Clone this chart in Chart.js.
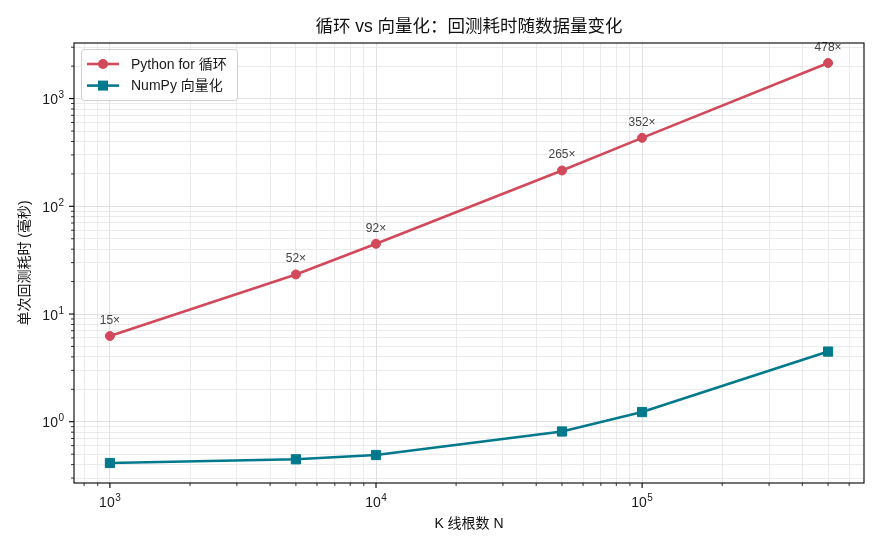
<!DOCTYPE html>
<html lang="zh">
<head>
<meta charset="UTF-8">
<title>循环 vs 向量化</title>
<script src="https://cdn.jsdelivr.net/npm/chart.js@4/dist/chart.umd.min.js"></script>
<style>
  body { margin: 0; background: #fff; }
  canvas { display: block; }
</style>
</head>
<body>
<canvas id="chart" width="880" height="550"></canvas>
<script>
// data
var barCounts = [1000, 5000, 10000, 50000, 100000, 500000];
var loopMs = [6.25, 23.3, 44.9, 215, 432, 2140];
var numpyMs = [0.414, 0.448, 0.491, 0.812, 1.23, 4.48];
var speedups = ['15×', '52×', '92×', '265×', '352×', '478×'];
var seriesNames = ['Python for 循环', 'NumPy 向量化'];
var seriesColors = ['#d1495b', '#00798c'];

var FONT = '"Liberation Sans", "Noto Sans CJK SC", sans-serif';
var TITLE_FONT = '"Liberation Sans", "Noto Sans CJK JP", sans-serif';

// matplotlib-like 5% margins in log space
function logLimits(values) {
    var lo = Math.log10(Math.min.apply(null, values));
    var hi = Math.log10(Math.max.apply(null, values));
    var pad = (hi - lo) * 0.05;
    return { min: Math.pow(10, lo - pad), max: Math.pow(10, hi + pad) };
}
var xLim = logLimits(barCounts);
var yLim = logLimits(loopMs.concat(numpyMs));

function logTicks(lim) {
    var ticks = [];
    var e0 = Math.floor(Math.log10(lim.min)), e1 = Math.ceil(Math.log10(lim.max));
    for (var e = e0; e <= e1; e++) {
        for (var m = 1; m < 10; m++) {
            var v = m * Math.pow(10, e);
            if (v >= lim.min && v <= lim.max) ticks.push({ value: v, major: m === 1, exp: e });
        }
    }
    return ticks;
}

function gridColor(ctx) {
    return ctx.tick && ctx.tick.major ? '#d9d9d9' : '#e6e6e6';
}

function drawPow(ctx, exp, x, y, align) {
    // "10" plus a raised smaller exponent
    ctx.font = '14px ' + FONT;
    var base = ctx.measureText('10').width;
    ctx.font = '10px ' + FONT;
    var sup = String(exp);
    var supW = ctx.measureText(sup).width;
    var total = base + supW + 0.5;
    var x0 = align === 'right' ? x - total : x - total / 2;
    ctx.textAlign = 'left';
    ctx.textBaseline = 'alphabetic';
    ctx.font = '14px ' + FONT;
    ctx.fillText('10', x0, y);
    ctx.font = '10px ' + FONT;
    ctx.fillText(sup, x0 + base + 0.5, y - 6);
}

var decorations = {
    id: 'decorations',
    afterDraw: function (chart) {
        var ctx = chart.ctx;
        var a = chart.chartArea;
        var xs = chart.scales.x, ys = chart.scales.y;
        ctx.save();

        // speed-up labels above the loop points
        var meta = chart.getDatasetMeta(0);
        ctx.fillStyle = '#444';
        ctx.font = '12px ' + FONT;
        ctx.textAlign = 'center';
        ctx.textBaseline = 'alphabetic';
        meta.data.forEach(function (pt, i) {
            ctx.fillText(speedups[i], pt.x, pt.y - 12);
        });

        // frame
        ctx.strokeStyle = '#000';
        ctx.lineWidth = 1.1;
        ctx.strokeRect(a.left, a.top, a.right - a.left, a.bottom - a.top);

        // tick marks and labels
        ctx.fillStyle = '#1a1a1a';
        xs.ticks.forEach(function (t) {
            var px = xs.getPixelForValue(t.value);
            ctx.lineWidth = t.major ? 1.1 : 0.8;
            ctx.beginPath();
            ctx.moveTo(px, a.bottom);
            ctx.lineTo(px, a.bottom + (t.major ? 5 : 3));
            ctx.stroke();
            if (t.major) drawPow(ctx, t.exp, px, a.bottom + 24, 'center');
        });
        ys.ticks.forEach(function (t) {
            var py = ys.getPixelForValue(t.value);
            ctx.lineWidth = t.major ? 1.1 : 0.8;
            ctx.beginPath();
            ctx.moveTo(a.left, py);
            ctx.lineTo(a.left - (t.major ? 5 : 3), py);
            ctx.stroke();
            if (t.major) drawPow(ctx, t.exp, a.left - 10, py + 5.5, 'right');
        });

        // titles
        var cx = (a.left + a.right) / 2;
        ctx.fillStyle = '#111';
        ctx.textAlign = 'center';
        ctx.textBaseline = 'middle';
        ctx.font = '17.5px ' + TITLE_FONT;
        ctx.fillText('循环 vs 向量化：回测耗时随数据量变化', cx, 27);
        ctx.font = '14px ' + FONT;
        ctx.fillText('K 线根数 N', cx, 524);
        ctx.save();
        ctx.translate(25.5, (a.top + a.bottom) / 2);
        ctx.rotate(-Math.PI / 2);
        ctx.fillText('单次回测耗时 (毫秒)', 0, 0);
        ctx.restore();

        // legend, upper left inside the axes
        ctx.font = '14px ' + FONT;
        var bx = a.left + 7.5, by = a.top + 6.5;
        var bw = 156, bh = 51;
        ctx.beginPath();
        ctx.roundRect(bx, by, bw, bh, 3);
        ctx.fillStyle = 'rgba(255,255,255,0.8)';
        ctx.fill();
        ctx.strokeStyle = '#d0d0d0';
        ctx.lineWidth = 1;
        ctx.stroke();
        seriesNames.forEach(function (name, i) {
            var ly = by + 14.5 + i * 21.6;
            ctx.strokeStyle = seriesColors[i];
            ctx.fillStyle = seriesColors[i];
            ctx.lineWidth = 2.6;
            ctx.beginPath();
            ctx.moveTo(bx + 5.5, ly);
            ctx.lineTo(bx + 37.5, ly);
            ctx.stroke();
            var mx = bx + 21.5;
            ctx.beginPath();
            if (i === 0) ctx.arc(mx, ly, 5, 0, Math.PI * 2);
            else ctx.rect(mx - 5, ly - 5, 10, 10);
            ctx.fill();
            ctx.fillStyle = '#1a1a1a';
            ctx.textAlign = 'left';
            ctx.textBaseline = 'middle';
            ctx.fillText(name, bx + 49.5, ly + 1);
        });

        ctx.restore();
    }
};

function pairs(ys) {
    return barCounts.map(function (n, i) { return { x: n, y: ys[i] }; });
}

new Chart(document.getElementById('chart'), {
    type: 'line',
    data: {
        datasets: [
            {
                label: seriesNames[0],
                data: pairs(loopMs),
                borderColor: seriesColors[0],
                backgroundColor: seriesColors[0],
                borderWidth: 2.6,
                pointStyle: 'circle',
                pointRadius: 4.5,
                pointBorderWidth: 1,
                tension: 0
            },
            {
                label: seriesNames[1],
                data: pairs(numpyMs),
                borderColor: seriesColors[1],
                backgroundColor: seriesColors[1],
                borderWidth: 2.6,
                pointStyle: 'rect',
                pointRadius: 6.5,
                pointBorderWidth: 1,
                tension: 0
            }
        ]
    },
    options: {
        responsive: false,
        animation: false,
        layout: { padding: { left: 0, right: 16, top: 43, bottom: 0 } },
        plugins: {
            legend: { display: false },
            title: { display: false },
            tooltip: { enabled: false }
        },
        scales: {
            x: {
                type: 'logarithmic',
                min: xLim.min,
                max: xLim.max,
                afterBuildTicks: function (s) { s.ticks = logTicks(xLim); },
                afterFit: function (s) { s.height = 67; },
                ticks: { display: false },
                grid: { color: gridColor, lineWidth: 0.8, drawTicks: false },
                border: { display: false }
            },
            y: {
                type: 'logarithmic',
                min: yLim.min,
                max: yLim.max,
                afterBuildTicks: function (s) { s.ticks = logTicks(yLim); },
                afterFit: function (s) { s.width = 74; },
                ticks: { display: false },
                grid: { color: gridColor, lineWidth: 0.8, drawTicks: false },
                border: { display: false }
            }
        }
    },
    plugins: [decorations]
});
</script>
</body>
</html>
